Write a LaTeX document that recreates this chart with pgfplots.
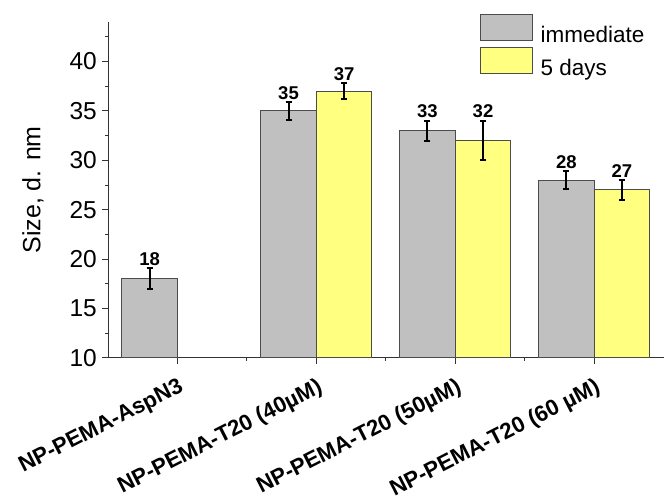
\documentclass[border=0pt]{standalone}
\usepackage{fontspec}
\setmainfont{Liberation Sans}
\usepackage{pgfplots}
\pgfplotsset{compat=1.18}
\definecolor{barg}{RGB}{192,192,192}
\definecolor{bary}{RGB}{255,255,128}
\begin{document}
\begin{tikzpicture}
\path (-108pt,-145pt) rectangle (556pt,358pt);
\begin{axis}[
  at={(0,0)}, anchor=south west,
  scale only axis, width=556pt, height=336pt,
  xmin=-0.5, xmax=3.5, ymin=10, ymax=44,
  axis x line*=bottom, axis y line*=left,
  axis line style={black!80, line width=0.8pt},
  ytick={10,15,...,40}, minor ytick={12.5,17.5,...,42.5},
  xtick={0,1,2,3}, minor xtick={0.5,1.5,2.5},
  xticklabels={NP-PEMA-AspN3, NP-PEMA-T20 (40µM), NP-PEMA-T20 (50µM), NP-PEMA-T20 (60 µM)},
  tick align=outside, major tick length=6pt, minor tick length=3pt,
  tick style={black!80, line width=0.8pt},
  /pgf/number format/assume math mode=true,
  yticklabel style={font=\fontsize{24.5}{28}\selectfont, inner sep=0pt, xshift=-5pt},
  xticklabel style={font=\fontsize{22.3}{26}\selectfont\bfseries, xshift=0pt, yshift=-13pt, rotate=27, anchor=north east, inner sep=0pt},
  ylabel={Size, d. nm},
  ylabel style={font=\fontsize{25}{30}\selectfont, at={(axis description cs:-0.135,0.5)}, anchor=center},
  legend style={at={(axis description cs:0.669,1.025)}, anchor=north west, draw=none, fill=none,
    font=\fontsize{22.5}{27}\selectfont, inner sep=0pt, row sep=3pt, column sep=8pt,
    nodes={inner sep=0pt}},
  legend cell align=left,
  legend image code/.code={\draw[#1] (0pt,-5pt) rectangle (52pt,21pt);},
  clip=true,
]
\addplot[ybar, bar width=0.4, bar shift=0, fill=barg, draw=black!70, line width=0.8pt,
  error bars/.cd, y dir=both, y explicit,
  error bar style={black, line width=2pt},
  error mark options={rotate=90, mark size=3pt, line width=2pt, black}]
  coordinates {(-0.2,18) +- (0,1.05) (0.8,35) +- (0,0.9) (1.8,33) +- (0,1) (2.8,28) +- (0,0.9)};
\addlegendentry{immediate}
\addplot[ybar, bar width=0.4, bar shift=0, fill=bary, draw=black!70, line width=0.8pt,
  error bars/.cd, y dir=both, y explicit,
  error bar style={black, line width=2pt},
  error mark options={rotate=90, mark size=3pt, line width=2pt, black}]
  coordinates {(1.2,37) +- (0,0.8) (2.2,32) +- (0,2) (3.2,27) +- (0,1)};
\addlegendentry{5 days}
\addplot[draw=none, mark=none, forget plot, nodes near coords, point meta=explicit symbolic,
  nodes near coords style={anchor=south, font=\fontsize{18.5}{22}\selectfont\bfseries, inner sep=2.5pt}]
  coordinates {(-0.2,19.05) [18] (0.8,35.9) [35] (1.2,37.8) [37] (1.8,34) [33] (2.2,34) [32] (2.8,28.9) [28] (3.2,28) [27]};
\end{axis}
\end{tikzpicture}
\end{document}
